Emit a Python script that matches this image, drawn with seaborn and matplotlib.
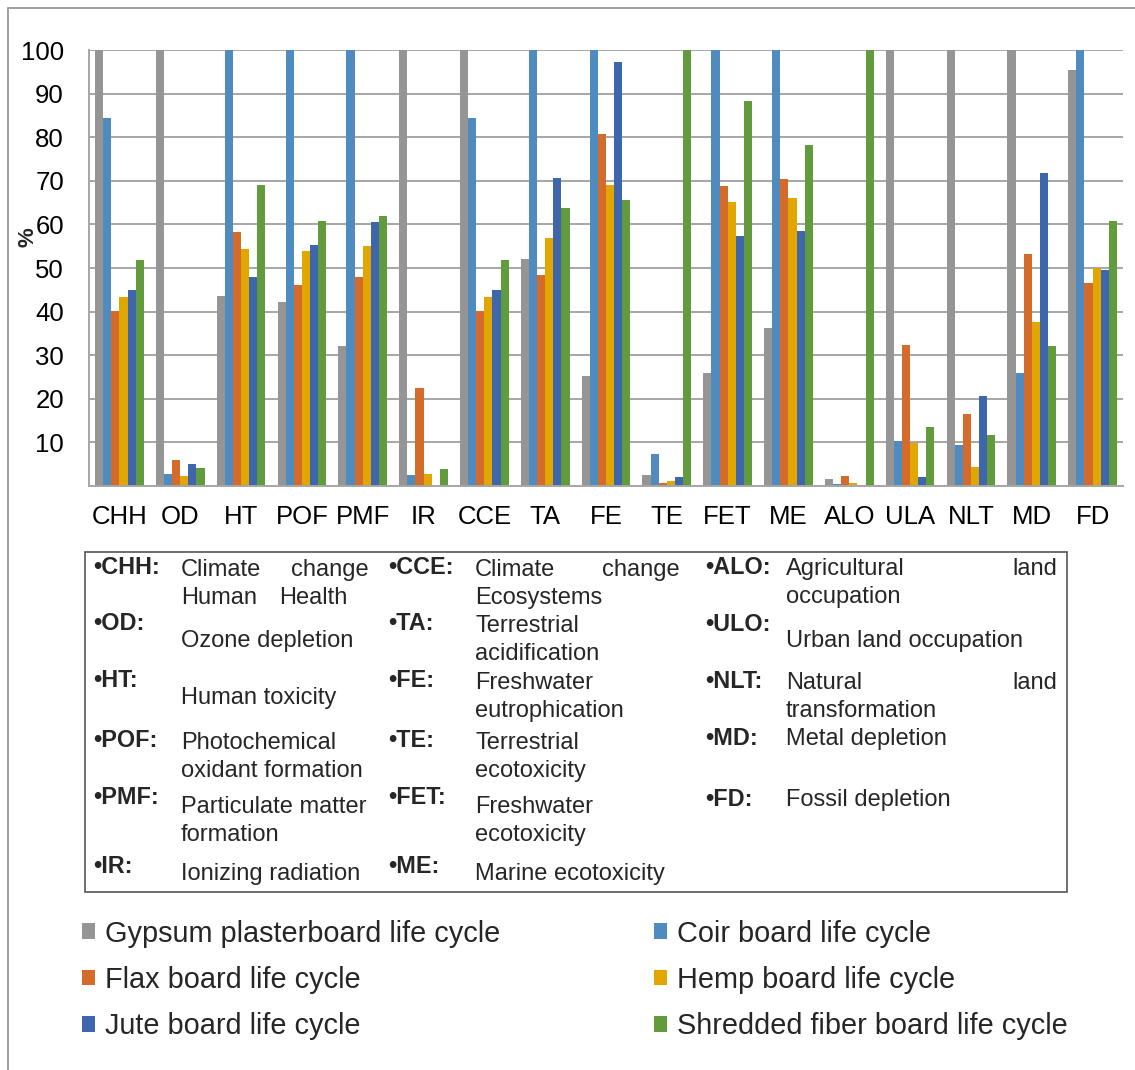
import numpy as np
import pandas as pd
import matplotlib
matplotlib.use("Agg")
import matplotlib.pyplot as plt
from matplotlib.patches import Rectangle
from matplotlib.lines import Line2D
from matplotlib.ticker import FixedLocator
import seaborn as sns

# ---------------- data ----------------
categories = ["CHH", "OD", "HT", "POF", "PMF", "IR", "CCE", "TA", "FE", "TE",
              "FET", "ME", "ALO", "ULA", "NLT", "MD", "FD"]
series_names = ["Gypsum plasterboard life cycle", "Coir board life cycle",
                "Flax board life cycle", "Hemp board life cycle",
                "Jute board life cycle", "Shredded fiber board life cycle"]
gypsum = [100, 100, 43.6, 42.2, 32.1, 100, 100, 52.1, 25.2, 2.5, 25.9, 36.2, 1.6, 100, 100, 100, 95.3]
coir = [84.4, 2.8, 100, 100, 100, 2.6, 84.4, 100, 100, 7.3, 100, 100, 0.5, 10.3, 9.4, 25.9, 100]
flax = [40.1, 6.0, 58.3, 46.2, 47.9, 22.4, 40.1, 48.3, 80.8, 0.7, 68.9, 70.5, 2.2, 32.3, 16.5, 53.2, 46.6]
hemp = [43.4, 2.2, 54.4, 54.0, 55.0, 2.7, 43.4, 56.8, 69.0, 1.1, 65.1, 66.1, 0.7, 9.9, 4.4, 37.7, 50.0]
jute = [44.9, 5.0, 48.0, 55.3, 60.6, 0.1, 44.9, 70.6, 97.3, 2.0, 57.4, 58.4, 0.0, 2.0, 20.7, 71.9, 49.6]
shredded = [51.8, 4.1, 69.0, 60.8, 61.9, 3.8, 51.8, 63.8, 65.6, 100, 88.3, 78.2, 100, 13.5, 11.6, 32.0, 60.8]
y_ticks = [10, 20, 30, 40, 50, 60, 70, 80, 90, 100]

abbr_codes = ["CHH", "OD", "HT", "POF", "PMF", "IR",
              "CCE", "TA", "FE", "TE", "FET", "ME",
              "ALO", "ULO", "NLT", "MD", "FD"]

colors = ["#959595", "#4F8BBF", "#D56B2B", "#E2A600", "#3E66AD", "#629B3E"]

# ---------------- figure ----------------
W, H = 1135, 1070
sns.set_style("white")
plt.rcParams["font.family"] = ["Liberation Sans", "DejaVu Sans"]

fig = plt.figure(figsize=(W / 100, H / 100), dpi=100)
ax = fig.add_axes([89 / W, 1 - 486 / H, (1123 - 89) / W, (486 - 50) / H])

values = [gypsum, coir, flax, hemp, jute, shredded]
df = pd.DataFrame({
    "cat": np.tile(categories, len(series_names)),
    "series": np.repeat(series_names, len(categories)),
    "val": np.concatenate([np.asarray(v, float) for v in values]),
})

sns.barplot(data=df, x="cat", y="val", hue="series", order=categories,
            hue_order=series_names, palette=colors, saturation=1,
            width=0.8, errorbar=None, linewidth=0, ax=ax)

grid_c = "#A6A6A6"
ax.set_xlim(-0.5, len(categories) - 0.5)
ax.set_ylim(0, 100)
ax.set_yticks(y_ticks)
ax.set_yticklabels([str(t) for t in y_ticks])
ax.yaxis.grid(True, color=grid_c, linewidth=1.4)
ax.set_axisbelow(True)
ax.xaxis.grid(False)
for s in ["top", "right"]:
    ax.spines[s].set_visible(False)
for s in ["left", "bottom"]:
    ax.spines[s].set_color(grid_c)
    ax.spines[s].set_linewidth(1.4)

ax.set_xticks(range(len(categories)))
ax.set_xticklabels(categories)
ax.xaxis.set_minor_locator(FixedLocator(np.arange(-0.5, len(categories), 1.0)))
ax.tick_params(axis="x", which="major", length=0, pad=14, labelsize=18.5, colors="black")
ax.tick_params(axis="x", which="minor", length=6, width=1.4, color=grid_c, direction="out")
ax.tick_params(axis="y", which="major", length=6, width=1.4, color=grid_c, pad=12,
               labelsize=18.5, labelcolor="black")
ax.set_xlabel("")
ax.set_ylabel("")
if ax.get_legend() is not None:
    ax.get_legend().remove()


def px(x, y):
    return x / W, 1 - y / H


# y label
fig.text(*px(28, 237), "%", rotation=90, ha="center", va="center",
         fontsize=16, fontweight="bold")

# outer frame lines
fig.add_artist(Line2D([8 / W, 1.0], [1 - 8 / H, 1 - 8 / H], color="#A0A0A0", lw=1.4))
fig.add_artist(Line2D([8 / W, 8 / W], [1 - 8 / H, 0.0], color="#A0A0A0", lw=1.4))

# abbreviation table box
fig.add_artist(Rectangle(px(85, 892), (1067 - 85) / W, (892 - 552) / H,
                         transform=fig.transFigure, fill=False,
                         edgecolor="#555555", linewidth=1.2))

code_fs = 16.8
desc_fs = 17
code_x = [93, 388, 705]
desc_x = [181, 475, 786]
layout = {
    "CHH": (0, 574, [("Climate", "l", 576), ("change", ("r", 369), 576),
                     ("Human", "l", 604), ("Health", ("x", 279), 604)]),
    "OD": (0, 630, [("Ozone depletion", "l", 647)]),
    "HT": (0, 687, [("Human toxicity", "l", 704)]),
    "POF": (0, 747, [("Photochemical", "l", 749), ("oxidant formation", "l", 777)]),
    "PMF": (0, 804, [("Particulate matter", "l", 813), ("formation", "l", 841)]),
    "IR": (0, 873, [("Ionizing radiation", "l", 880)]),
    "CCE": (1, 574, [("Climate", "l", 576), ("change", ("r", 680), 576),
                     ("Ecosystems", "l", 604)]),
    "TA": (1, 630, [("Terrestrial", "l", 632), ("acidification", "l", 660)]),
    "FE": (1, 687, [("Freshwater", "l", 689), ("eutrophication", "l", 717)]),
    "TE": (1, 747, [("Terrestrial", "l", 749), ("ecotoxicity", "l", 777)]),
    "FET": (1, 804, [("Freshwater", "l", 813), ("ecotoxicity", "l", 841)]),
    "ME": (1, 873, [("Marine ecotoxicity", "l", 880)]),
    "ALO": (2, 574, [("Agricultural", "l", 575), ("land", ("r", 1057), 575),
                     ("occupation", "l", 603)]),
    "ULO": (2, 631, [("Urban land occupation", "l", 647)]),
    "NLT": (2, 688, [("Natural", "l", 689), ("land", ("r", 1057), 689),
                     ("transformation", "l", 717)]),
    "MD": (2, 745, [("Metal depletion", "l", 745)]),
    "FD": (2, 806, [("Fossil depletion", "l", 806)]),
}
for code in abbr_codes:
    col, cy, parts = layout[code]
    fig.text(*px(code_x[col], cy), "•" + code + ":", fontsize=code_fs,
             fontweight="bold", va="baseline", ha="left")
    for word, mode, by in parts:
        if mode == "l":
            fig.text(*px(desc_x[col], by), word, fontsize=desc_fs, va="baseline", ha="left")
        elif mode[0] == "r":
            fig.text(*px(mode[1], by), word, fontsize=desc_fs, va="baseline", ha="right")
        else:
            fig.text(*px(mode[1], by), word, fontsize=desc_fs, va="baseline", ha="left")

# series legend: two columns, three rows
handles = [Rectangle((0, 0), 1, 1, facecolor=c, edgecolor="none") for c in colors]
leg_kw = dict(loc="center left", frameon=False, fontsize=20.8, handlelength=0.45,
              handleheight=0.45, handletextpad=0.33, labelspacing=0.64,
              borderaxespad=0, borderpad=0)
for col_idx, x0 in [(0, 82), (1, 654)]:
    idx = [col_idx, col_idx + 2, col_idx + 4]
    fig.legend([handles[i] for i in idx], [series_names[i] for i in idx],
               bbox_to_anchor=px(x0, 980), **leg_kw)

fig.savefig("out.png", dpi=100)
